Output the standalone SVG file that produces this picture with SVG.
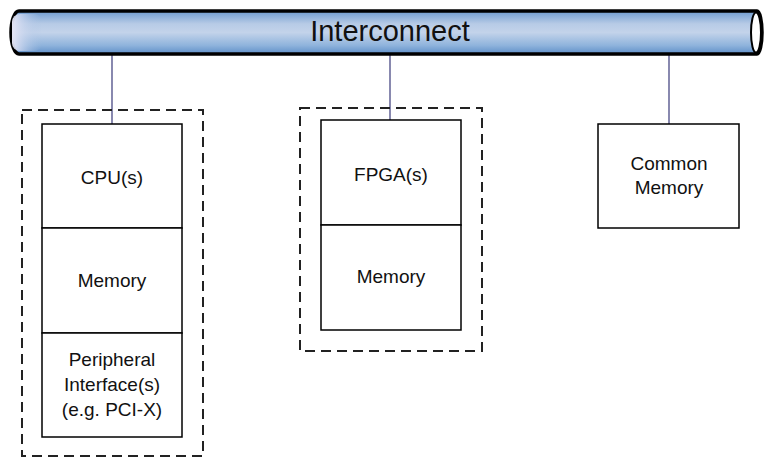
<svg xmlns="http://www.w3.org/2000/svg" width="764" height="458" viewBox="0 0 764 458">
<defs>
<linearGradient id="tube" x1="0" y1="0" x2="0" y2="1">
<stop offset="0" stop-color="#6f9bcf"/>
<stop offset="0.3" stop-color="#b7cbe6"/>
<stop offset="0.5" stop-color="#c3d3ea"/>
<stop offset="0.8" stop-color="#8fb3dc"/>
<stop offset="1" stop-color="#5f8fc8"/>
</linearGradient>
<linearGradient id="cap" x1="0" y1="0" x2="1" y2="0">
<stop offset="0" stop-color="#e6e6f6"/>
<stop offset="1" stop-color="#a9c2e4" stop-opacity="0"/>
</linearGradient>
</defs>
<style>
.box{fill:#ffffff;stroke:#000;stroke-width:1.5}
.grp{fill:none;stroke:#222;stroke-width:2;stroke-dasharray:10,6}
.con{stroke:#3a3a7a;stroke-width:1.2;fill:none}
text{font-family:"Liberation Sans",Arial,sans-serif;font-size:19px;fill:#111;text-anchor:middle}
</style>
<rect width="764" height="458" fill="#ffffff"/>
<g id="connectors">
<line class="con" x1="112" y1="54" x2="112" y2="124"/>
<line class="con" x1="390" y1="54" x2="390" y2="120"/>
<line class="con" x1="669" y1="54" x2="669" y2="124"/>
</g>
<g id="interconnect">
<path d="M19,11 H757 A5,21.5 0 0 1 757,54 H19 A8,21.5 0 0 1 19,11 Z" fill="url(#tube)" stroke="#000" stroke-width="3.5"/>
<rect x="12" y="14" width="30" height="37" rx="8" fill="url(#cap)"/>
<ellipse cx="756" cy="32.5" rx="5" ry="20" fill="#ffffff" stroke="#000" stroke-width="2"/>
<text x="390" y="41" style="font-size:29px">Interconnect</text>
</g>
<g id="cpu-node">
<rect class="grp" x="22" y="110" width="181" height="346"/>
<g id="cpu">
<rect class="box" x="42" y="124" width="140" height="104"/>
<text x="112" y="184">CPU(s)</text>
</g>
<g id="cpu-memory">
<rect class="box" x="42" y="228" width="140" height="105"/>
<text x="112" y="287">Memory</text>
</g>
<g id="peripheral">
<rect class="box" x="42" y="333" width="140" height="104"/>
<text x="112" y="366">Peripheral</text>
<text x="112" y="391">Interface(s)</text>
<text x="112" y="416">(e.g. PCI-X)</text>
</g>
</g>
<g id="fpga-node">
<rect class="grp" x="300" y="108" width="182" height="243"/>
<g id="fpga">
<rect class="box" x="321" y="120" width="140" height="105"/>
<text x="391" y="181">FPGA(s)</text>
</g>
<g id="fpga-memory">
<rect class="box" x="321" y="225" width="140" height="105"/>
<text x="391" y="283">Memory</text>
</g>
</g>
<g id="common-memory">
<rect class="box" x="598" y="124" width="141" height="104"/>
<text x="669" y="170">Common</text>
<text x="669" y="194">Memory</text>
</g>
</svg>
